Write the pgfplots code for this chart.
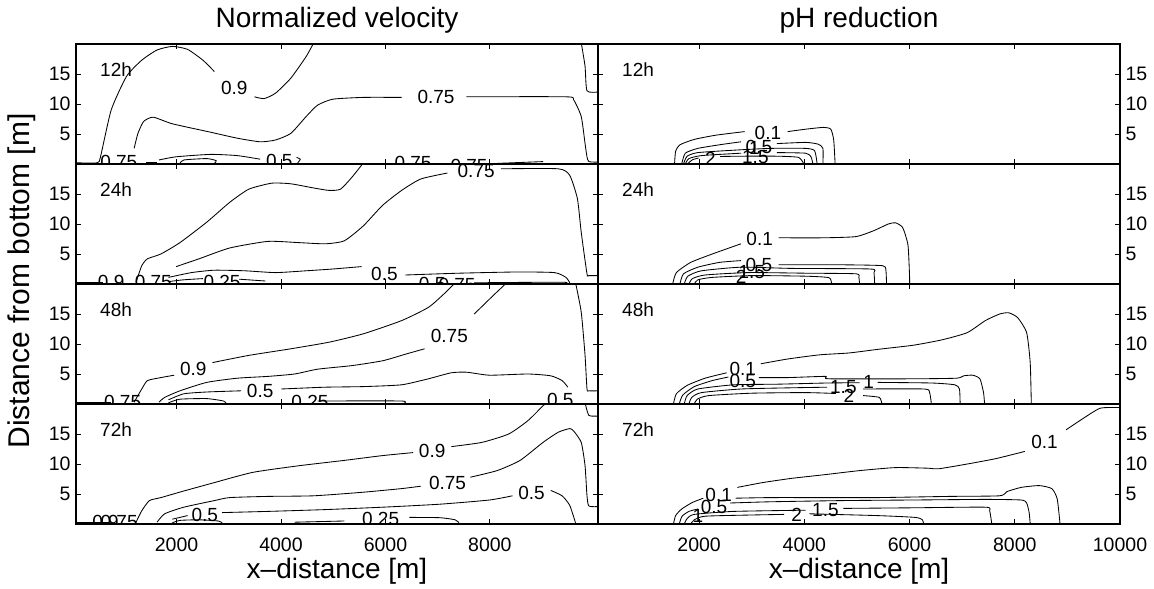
\documentclass[border=0pt]{standalone}
\usepackage{fontspec}
\setmainfont{Liberation Sans}
\usepackage{pgfplots}
\pgfplotsset{compat=1.18}

\tikzset{
  c/.style={black, line width=0.85pt, mark=none, line join=round, smooth, tension=0.35},
  lbl/.style={font=\fontsize{19}{22}\selectfont, inner sep=0pt},
  tag/.style={font=\fontsize{19}{22}\selectfont, inner sep=0pt, anchor=west},
}
\pgfplotsset{
  panel/.style={
    width=522pt, height=120pt, scale only axis, anchor=north west,
    ymin=0, ymax=20, ytick={5,10,15},
    scaled x ticks=false, scaled y ticks=false,
    tick align=inside, xtick pos=both, ytick pos=both,
    major tick length=5pt,
    axis line style={line width=1.2pt},
    every tick/.style={black, line width=0.8pt},
    tick label style={font=\fontsize{19.5}{22}\selectfont},
    /pgf/number format/assume math mode=true,
    /pgf/number format/1000 sep={},
    xticklabel style={yshift=-10pt},
  },
  L/.style={panel, xmin=75, xmax=10070, xtick={2000,4000,6000,8000},
    yticklabel style={xshift=-2pt}},
  R/.style={panel, xmin=78, xmax=10000, xtick={2000,4000,6000,8000,10000},
    yticklabel pos=right, yticklabel style={xshift=2pt}},
  noxl/.style={xticklabels={}},
  ttl/.style={title style={font=\fontsize{28}{32}\selectfont, yshift=1pt}},
  xl/.style={xlabel={x\textendash distance [m]},
    xlabel style={font=\fontsize{28}{32}\selectfont, yshift=0pt}},
}

\begin{document}
\begin{tikzpicture}
\path[use as bounding box] (0,0) rectangle (1154pt,589pt);

% ---------------- left column: normalized velocity ----------------
\begin{axis}[L, noxl, ttl, title={Normalized velocity}, at={(76pt,545pt)}]
\addplot[c] coordinates {(80,0.2)(480,0.2)(544,1.2)(749,9.0)(1042,14.6)(1334,17.3)(1627,19.0)(1920,19.6)(2212,19.1)(2505,17.3)(2725,15.4)};
\addplot[c] coordinates {(3493,11.2)(3676,10.9)(3895,11.8)(4188,14.3)(4481,17.9)(4627,20.2)};
\addplot[c] coordinates {(1188,2.6)(1261,5.1)(1371,7.1)(1554,7.8)(1920,6.7)(2651,5.3)(3163,4.3)(3602,3.7)(3895,4.0)(4188,5.1)(4481,7.9)(4700,9.8)(4993,10.8)(5578,11.1)(6310,11.1)};
\addplot[c] coordinates {(7550,11.2)(9457,11.2)(9603,10.7)(9749,7.9)(9822,3.4)(9859,1.2)(9895,0.4)(10070,0.3)};
\addplot[c] coordinates {(9749,20.2)(9822,16.3)(9859,12.2)(10070,12.0)};
\addplot[c] coordinates {(1664,0.67)(1993,1.2)(2651,1.6)(3163,1.4)(3602,0.8)};
\addplot[c] coordinates {(4298,1.1)(4371,0.8)(4320,0.2)};
\addplot[c] coordinates {(2066,0.1)(2139,0.67)(2578,0.9)(2761,0.55)(2724,0.1)};
\addplot[c] coordinates {(1407,0.2)(1627,0.2)};
\addplot[c] coordinates {(8139,0.1)(9017,0.4)};
\begin{scope}
\clip (rel axis cs:0,0) rectangle (rel axis cs:1,1);
\node[lbl] at (axis cs:3105,12.6) {0.9};
\node[lbl] at (axis cs:6968,11.1) {0.75};
\node[lbl] at (axis cs:895,0.4) {0.75};
\node[lbl] at (axis cs:3968,0.55) {0.5};
\node[lbl] at (axis cs:6529,0.1) {0.75};
\node[lbl] at (axis cs:7600,-0.4) {0.75};
\end{scope}
\node[tag] at (rel axis cs:0.046,0.783) {12h};
\end{axis}

\begin{axis}[L, noxl, at={(76pt,425pt)}]
\addplot[c] coordinates {(80,0.2)(600,0.2)};
\addplot[c] coordinates {(1225,0.3)(1334,3.05)(1444,4.2)(1700,5.0)(2066,6.9)(2578,10.3)(3017,13.6)(3383,15.8)(3822,16.8)(4188,16.7)(4627,16.0)(4920,15.6)(5139,15.8)(5359,17.8)(5578,20.2)};
\addplot[c] coordinates {(1993,2.9)(2432,4.2)(3017,6.0)(3749,7.1)(4334,6.9)(4846,6.7)(5212,7.2)(5578,9.7)(5944,13.1)(6310,15.6)(6676,17.5)(7188,18.5)};
\addplot[c] coordinates {(8212,19.2)(9310,19.2)(9529,18.1)(9676,14.2)(9749,8.6)(9859,1.7)(9895,1.4)(10070,1.4)};
\addplot[c] coordinates {(1846,1.1)(2286,1.9)(2724,2.3)(3310,2.2)(3895,1.9)(4481,2.2)(4993,2.5)(5542,2.9)};
\addplot[c] coordinates {(6383,1.5)(7407,1.8)(8505,2.0)(9237,1.9)(9456,1.1)(9529,0.2)};
\addplot[c] coordinates {(1846,0.4)(2139,0.7)(2505,0.9)};
\addplot[c] coordinates {(3200,0.8)(3700,0.5)};
\addplot[c] coordinates {(7700,0.2)(9383,0.3)(9456,0)};
\begin{scope}
\clip (rel axis cs:0,0) rectangle (rel axis cs:1,1);
\node[lbl] at (axis cs:7737,18.8) {0.75};
\node[lbl] at (axis cs:5980,1.7) {0.5};
\node[lbl] at (axis cs:749,0.4) {0.9};
\node[lbl] at (axis cs:1554,0.4) {0.75};
\node[lbl] at (axis cs:2871,0.4) {0.25};
\node[lbl] at (axis cs:6895,0.0) {0.5};
\node[lbl] at (axis cs:7371,-0.2) {0.75};
\end{scope}
\node[tag] at (rel axis cs:0.046,0.783) {24h};
\end{axis}

\begin{axis}[L, noxl, at={(76pt,305pt)}]
\addplot[c] coordinates {(80,0.2)(750,0.2)};
\addplot[c] coordinates {(1188,0.3)(1334,2.5)(1444,3.9)(1700,4.4)(1956,4.8)};
\addplot[c] coordinates {(2688,6.9)(3383,8.1)(4188,9.2)(4920,10.3)(5578,11.7)(6310,13.9)(6822,16.1)(7115,18.3)(7334,20.2)};
\addplot[c] coordinates {(1664,0.3)(1773,1.1)(2066,2.2)(2578,3.6)(3163,4.3)(3749,4.6)(4261,5.0)(4700,5.8)(5359,6.4)(5944,7.2)(6383,8.3)(6749,9.2)};
\addplot[c] coordinates {(7700,15.0)(8066,18.1)(8322,20.2)};
\addplot[c] coordinates {(1846,0.7)(2139,1.7)(2578,2.0)(3237,2.2)};
\addplot[c] coordinates {(4005,2.5)(4846,2.8)(5578,2.9)(6310,3.2)(6822,4.2)(7261,5.2)(7554,5.3)(7993,4.8)(8725,5.0)(9164,4.7)(9383,3.9)(9493,2.8)};
\addplot[c] coordinates {(9640,20.2)(9749,15.3)(9822,8.1)(9859,2.5)(9895,2.2)(10070,2.2)};
\addplot[c] coordinates {(1846,0.2)(2066,0.8)(2578,0.9)(2900,0.5)(2950,0.1)};
\addplot[c] coordinates {(4700,0.5)(6300,0.5)(6350,0.1)};
\begin{scope}
\clip (rel axis cs:0,0) rectangle (rel axis cs:1,1);
\node[lbl] at (axis cs:2322,5.8) {0.9};
\node[lbl] at (axis cs:7224,11.4) {0.75};
\node[lbl] at (axis cs:3602,2.1) {0.5};
\node[lbl] at (axis cs:968,0.4) {0.75};
\node[lbl] at (axis cs:4554,0.4) {0.25};
\node[lbl] at (axis cs:9347,0.7) {0.5};
\end{scope}
\node[tag] at (rel axis cs:0.046,0.783) {48h};
\end{axis}

\begin{axis}[L, xl, at={(76pt,185pt)}]
\addplot[c] coordinates {(80,0.2)(700,0.2)};
\addplot[c] coordinates {(1225,0.3)(1334,2.2)(1481,3.9)(1700,4.4)(2139,5.5)(2724,6.9)(3456,8.6)(4334,9.7)(5212,10.6)(5944,11.4)(6529,11.9)};
\addplot[c] coordinates {(7261,12.9)(7846,13.6)(8359,15.0)(8725,17.2)(9017,19.7)(9090,20.2)};
\addplot[c] coordinates {(1627,0.3)(1773,1.7)(2139,2.8)(2724,3.9)(3017,4.4)(3749,4.6)(4627,4.7)(5578,5.3)(6310,5.9)(6676,6.3)};
\addplot[c] coordinates {(7627,7.8)(8139,8.9)(8578,10.6)(9017,13.6)(9310,15.3)(9529,15.9)(9603,15.5)(9749,13.6)(9822,9.7)(9859,4.7)(9895,3.0)(10070,2.9)};
\addplot[c] coordinates {(1920,0.8)(2212,1.4)};
\addplot[c] coordinates {(2871,1.9)(3749,2.1)(4846,2.4)(5944,2.8)(7042,3.3)(7993,4.0)(8432,4.7)};
\addplot[c] coordinates {(9164,5.6)(9383,4.7)(9529,3.1)(9639,0.2)};
\addplot[c] coordinates {(4261,0.3)(5212,0.5)};
\addplot[c] coordinates {(6456,1.1)(7042,1.05)(7334,0.7)(7407,0.2)};
\addplot[c] coordinates {(9822,20.2)(9895,18.1)(10070,18.0)};
\addplot[c] coordinates {(1920,0.2)(2066,0.6)(2432,0.7)(2800,0.5)(2871,0.2)};
\addplot[c] coordinates {(7407,0.15)(9600,0.15)};
\begin{scope}
\clip (rel axis cs:0,0) rectangle (rel axis cs:1,1);
\node[lbl] at (axis cs:6895,12.1) {0.9};
\node[lbl] at (axis cs:7188,6.9) {0.75};
\node[lbl] at (axis cs:2541,1.5) {0.5};
\node[lbl] at (axis cs:8798,5.2) {0.5};
\node[lbl] at (axis cs:5908,0.8) {0.25};
\node[lbl] at (axis cs:640,0.4) {0.9};
\node[lbl] at (axis cs:900,0.4) {0.75};
\end{scope}
\node[tag] at (rel axis cs:0.046,0.783) {72h};
\end{axis}

% ---------------- right column: pH reduction ----------------
\begin{axis}[R, noxl, ttl, title={pH reduction}, at={(598pt,545pt)}]
\addplot[c] coordinates {(1533,0)(1553,2.1)(1635,3.2)(1908,4.1)(2318,4.8)(2864,5.4)};
\addplot[c] coordinates {(3684,5.4)(4025,5.8)(4367,6.1)(4503,5.8)(4558,4.0)(4585,0)};
\addplot[c] coordinates {(1669,0)(1737,1.8)(1976,2.6)(2386,3.2)(2796,3.7)};
\addplot[c] coordinates {(3479,3.4)(4025,3.6)(4264,3.3)(4353,2.6)(4353,0)};
\addplot[c] coordinates {(1703,0)(1772,1.3)(1976,1.9)(2659,2.3)(3342,2.6)(4025,2.6)(4196,2.2)(4244,0)};
\addplot[c] coordinates {(1737,0)(1806,0.9)(2045,1.4)(2796,1.8)};
\addplot[c] coordinates {(3479,1.9)(4025,1.8)(4127,1.2)(4162,0)};
\addplot[c] coordinates {(1772,0)(1874,0.7)(1990,1.0)};
\addplot[c] coordinates {(2400,1.25)(2796,1.3)(3479,1.3)(3889,1.1)(3991,0)};
\begin{scope}
\clip (rel axis cs:0,0) rectangle (rel axis cs:1,1);
\node[lbl] at (axis cs:3308,5.1) {0.1};
\node[lbl] at (axis cs:3137,2.8) {0.5};
\node[lbl] at (axis cs:3050,2.6) {1};
\node[lbl] at (axis cs:3069,1.2) {1.5};
\node[lbl] at (axis cs:2215,0.9) {2};
\end{scope}
\node[tag] at (rel axis cs:0.046,0.783) {12h};
\end{axis}

\begin{axis}[R, noxl, at={(598pt,425pt)}]
\addplot[c] coordinates {(1498,0)(1567,1.9)(1840,3.6)(2250,5.0)(2796,6.7)};
\addplot[c] coordinates {(3513,7.7)(4366,7.7)(4981,7.9)(5323,8.9)(5596,10.0)(5732,10.2)(5869,9.4)(5971,6.4)(6005,0)};
\addplot[c] coordinates {(1635,0)(1703,1.7)(1976,2.8)(2386,3.6)(2796,3.9)};
\addplot[c] coordinates {(3513,3.2)(4708,3.2)(5391,3.1)(5541,2.8)(5562,0)};
\addplot[c] coordinates {(1717,0)(1785,1.3)(2045,2.2)(2796,2.8)(3752,2.6)(5254,2.5)(5323,1.9)(5336,0)};
\addplot[c] coordinates {(1806,0)(1874,0.9)(2113,1.5)(2932,1.9)(4025,1.8)(4981,1.7)(5036,1.1)(5050,0)};
\addplot[c] coordinates {(1908,0)(1976,0.7)(2250,1.1)(2999,1.4)(4025,1.3)(4469,1.05)(4517,0)};
\begin{scope}
\clip (rel axis cs:0,0) rectangle (rel axis cs:1,1);
\node[lbl] at (axis cs:3151,7.5) {0.1};
\node[lbl] at (axis cs:3137,3.2) {0.5};
\node[lbl] at (axis cs:3000,2.0) {1.5};
\node[lbl] at (axis cs:2800,1.2) {2};
\end{scope}
\node[tag] at (rel axis cs:0.046,0.783) {24h};
\end{axis}

\begin{axis}[R, noxl, at={(598pt,305pt)}]
\addplot[c] coordinates {(1512,0)(1567,1.7)(1772,3.1)(2113,4.3)(2523,5.2)};
\addplot[c] coordinates {(3172,6.7)(3684,7.5)(4298,8.2)(4844,8.5)(5391,9.1)(6074,9.8)(6620,10.7)(7098,11.9)(7440,13.9)(7713,15.0)(7884,15.2)(8054,14.4)(8225,11.9)(8293,6.9)(8314,0)};
\addplot[c] coordinates {(1621,0)(1690,1.5)(1908,2.9)(2250,3.9)(2557,4.5)};
\addplot[c] coordinates {(3137,4.4)(3684,4.4)(4401,4.6)(4469,4.2)(6074,4.2)(6893,4.3)(7030,4.7)(7201,4.8)(7337,4.2)(7406,1.9)(7426,0)};
\addplot[c] coordinates {(1717,0)(1772,1.4)(1976,2.5)(2659,3.2)(3479,3.3)(4435,3.5)(5050,3.55)};
\addplot[c] coordinates {(5391,3.6)(6415,3.5)(6859,3.2)(6948,2.5)(6961,0)};
\addplot[c] coordinates {(1806,0)(1860,1.1)(2045,1.9)(2796,2.5)(3752,2.7)(4435,2.8)};
\addplot[c] coordinates {(5118,2.5)(6279,2.5)(6381,1.9)(6415,0)};
\addplot[c] coordinates {(1908,0)(1963,0.8)(2181,1.4)(2999,1.8)(4025,1.9)(4600,1.75)};
\addplot[c] coordinates {(5118,1.4)(5425,1.1)(5473,0)};
\begin{scope}
\clip (rel axis cs:0,0) rectangle (rel axis cs:1,1);
\node[lbl] at (axis cs:2830,5.9) {0.1};
\node[lbl] at (axis cs:2830,3.9) {0.5};
\node[lbl] at (axis cs:4742,2.8) {1.5};
\node[lbl] at (axis cs:5220,3.6) {1};
\node[lbl] at (axis cs:4845,1.3) {2};
\end{scope}
\node[tag] at (rel axis cs:0.046,0.783) {48h};
\end{axis}

\begin{axis}[R, xl, at={(598pt,185pt)}]
\addplot[c] coordinates {(2727,6.1)(3206,6.9)(3752,7.6)(4367,8.2)(5050,8.9)(5732,9.4)(6347,9.3)(6552,9.2)(7098,10.0)(7644,10.9)(8191,12.1)};
\addplot[c] coordinates {(8976,15.7)(9283,17.5)(9625,19.3)(10000,19.4)};
\addplot[c] coordinates {(1512,0)(1553,1.4)(1669,2.5)(1874,3.6)(2079,4.3)};
\addplot[c] coordinates {(2693,4.3)(3342,4.4)(4367,4.4)(5391,4.4)(6757,4.6)(7713,4.7)(7850,5.4)(8122,6.1)(8464,6.4)(8703,5.9)(8806,4.2)(8860,0)};
\addplot[c] coordinates {(1621,0)(1676,1.3)(1806,2.1)(1976,2.5)};
\addplot[c] coordinates {(2591,3.5)(3342,3.7)(4708,3.9)(6074,4.0)(7440,4.1)(8122,4.0)(8225,3.5)(8273,1.9)(8293,0)};
\addplot[c] coordinates {(1717,0)(1772,0.9)(1908,1.6)(2659,2.1)(4025,2.3)};
\addplot[c] coordinates {(4742,2.6)(6074,2.7)(7440,2.8)(7522,2.2)(7563,0)};
\addplot[c] coordinates {(1840,0)(1908,0.7)(2113,1.3)(2999,1.5)(3615,1.6)};
\addplot[c] coordinates {(4094,1.7)(5391,1.4)(6108,1.1)(6245,0.7)(6265,0)};
\begin{scope}
\clip (rel axis cs:0,0) rectangle (rel axis cs:1,1);
\node[lbl] at (axis cs:8566,13.6) {0.1};
\node[lbl] at (axis cs:2372,4.9) {0.1};
\node[lbl] at (axis cs:2284,2.9) {0.5};
\node[lbl] at (axis cs:1976,1.4) {1};
\node[lbl] at (axis cs:4401,2.35) {1.5};
\node[lbl] at (axis cs:3855,1.5) {2};
\end{scope}
\node[tag] at (rel axis cs:0.046,0.783) {72h};
\end{axis}

\node[rotate=90, font=\fontsize{30}{34}\selectfont, inner sep=0pt] at (22pt,308pt) {Distance from bottom [m]};
\end{tikzpicture}
\end{document}
